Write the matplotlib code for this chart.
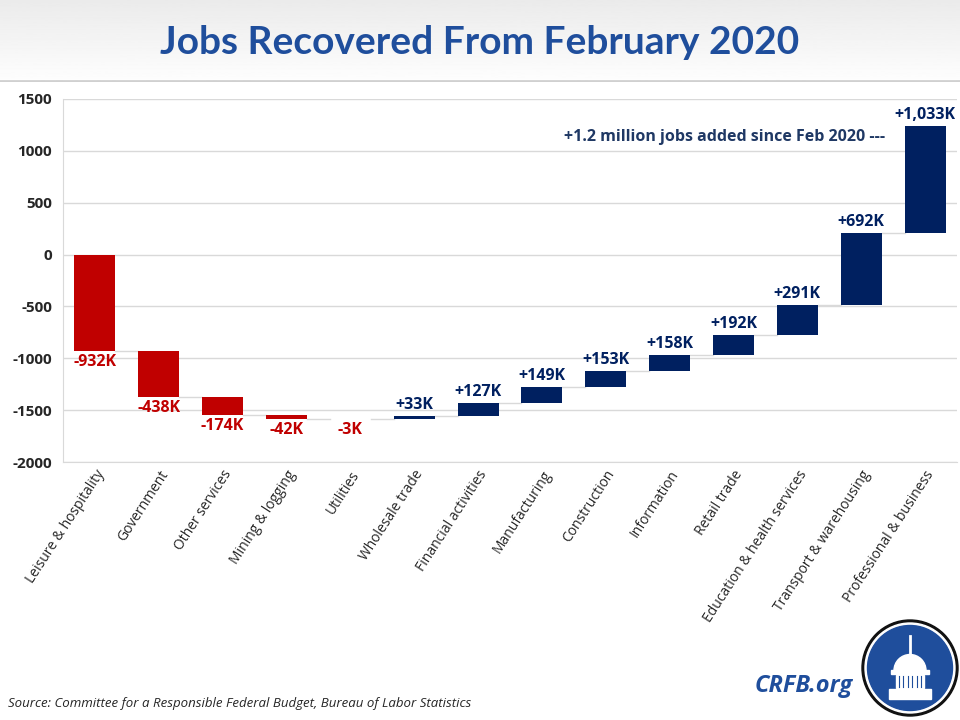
import numpy as np
import matplotlib.pyplot as plt
from matplotlib.patches import Circle, Wedge, Rectangle

# data
sectors = ["Leisure & hospitality", "Government", "Other services", "Mining & logging",
           "Utilities", "Wholesale trade", "Financial activities", "Manufacturing",
           "Construction", "Information", "Retail trade", "Education & health services",
           "Transport & warehousing", "Professional & business"]
changes = [-932, -438, -174, -42, -3, 33, 127, 149, 153, 158, 192, 291, 692, 1033]
value_labels = ["-932K", "-438K", "-174K", "-42K", "-3K", "+33K", "+127K", "+149K",
                "+153K", "+158K", "+192K", "+291K", "+692K", "+1,033K"]
y_ticks = [1500, 1000, 500, 0, -500, -1000, -1500, -2000]

RED = "#C00000"
NAVY = "#002060"

fig = plt.figure(figsize=(9.6, 7.2), dpi=100)

# title band with gradient
band = fig.add_axes([0, 1 - 82 / 720, 1, 82 / 720])
grad = np.linspace(0.92, 0.995, 100).reshape(-1, 1)
band.imshow(grad, aspect="auto", cmap="gray", vmin=0, vmax=1, extent=[0, 1, 0, 1])
band.axhline(0.01, color="#d0d0d0", lw=2)
band.set_axis_off()
fig.text(0.5, 1 - 42 / 720, "Jobs Recovered From February 2020", ha="center", va="center",
         fontsize=28, fontweight="bold", color="#1F4E9C", family="Lato")

ax = fig.add_axes([63 / 960, 1 - 462 / 720, 894 / 960, 363 / 720])

x = np.arange(len(sectors))
ends = np.cumsum(changes)
starts = ends - np.array(changes)
colors = [RED if c < 0 else NAVY for c in changes]
width = 0.64
ax.bar(x, changes, bottom=starts, width=width, color=colors, zorder=3)

# connectors
for i in range(len(x) - 1):
    ax.plot([x[i] + width / 2, x[i + 1] - width / 2], [ends[i], ends[i]],
            color="#d9d9d9", lw=1, zorder=2)

for i, (c, lab) in enumerate(zip(changes, value_labels)):
    if c < 0:
        ax.text(x[i], min(starts[i], ends[i]) - 30, lab, ha="center", va="top",
                color=RED, fontsize=11.5, fontweight="bold", family="Open Sans")
    else:
        ax.text(x[i], ends[i] + 30, lab, ha="center", va="bottom",
                color=NAVY, fontsize=11.5, fontweight="bold", family="Open Sans")

ax.text(x[-1] - 0.62, 1135, "+1.2 million jobs added since Feb 2020 ---", ha="right",
        va="center", color="#1F3864", fontsize=11.5, fontweight="bold", family="Open Sans")

ax.set_xlim(-0.5, len(sectors) - 0.5)
ax.set_ylim(-2000, 1500)
ax.set_yticks(y_ticks)
ax.set_yticklabels([str(t) for t in y_ticks], fontsize=11, fontweight="bold",
                   color="#262626", family="Open Sans")
ax.yaxis.grid(True, color="#d9d9d9", lw=1, zorder=0)
ax.set_axisbelow(True)
ax.tick_params(axis="y", length=0, pad=8)
ax.tick_params(axis="x", length=0, pad=4)
ax.set_xticks(x)
ax.set_xticklabels(sectors, rotation=57, ha="right", va="top", rotation_mode="anchor",
                   fontsize=10, color="#262626", family="Open Sans")
for s in ["top", "right", "bottom", "left"]:
    ax.spines[s].set_color("#d9d9d9")
ax.spines["top"].set_visible(False)
ax.spines["right"].set_visible(False)

fig.text(8 / 960, 1 - 704 / 720,
         "Source: Committee for a Responsible Federal Budget, Bureau of Labor Statistics",
         fontsize=9.5, style="italic", color="#262626", family="Open Sans", va="center")
fig.text(853 / 960, 1 - 686 / 720, "CRFB.org", fontsize=17, style="italic",
         fontweight="bold", color="#1F4E9C", family="Open Sans", ha="right", va="center")

# logo
logo = fig.add_axes([860 / 960, 1 - 718 / 720, 100 / 960, 100 / 720])
logo.set_xlim(-1, 1)
logo.set_ylim(-1, 1)
logo.set_aspect("equal")
logo.add_patch(Circle((0, 0), 0.96, color="#111111"))
logo.add_patch(Circle((0, 0), 0.90, color="white"))
logo.add_patch(Circle((0, 0), 0.85, color="#1F4E9C"))
logo.add_patch(Wedge((0, -0.05), 0.32, 0, 180, color="white"))
logo.add_patch(Rectangle((-0.38, -0.12), 0.76, 0.08, color="white"))
logo.add_patch(Rectangle((-0.28, -0.40), 0.56, 0.26, color="white"))
logo.add_patch(Rectangle((-0.42, -0.62), 0.84, 0.20, color="white"))
for xc in np.linspace(-0.22, 0.22, 6):
    logo.plot([xc, xc], [-0.38, -0.16], color="#1F4E9C", lw=0.8)
logo.plot([0, 0], [0.27, 0.65], color="white", lw=2)
logo.set_axis_off()

fig.savefig("out.png", dpi=100)
